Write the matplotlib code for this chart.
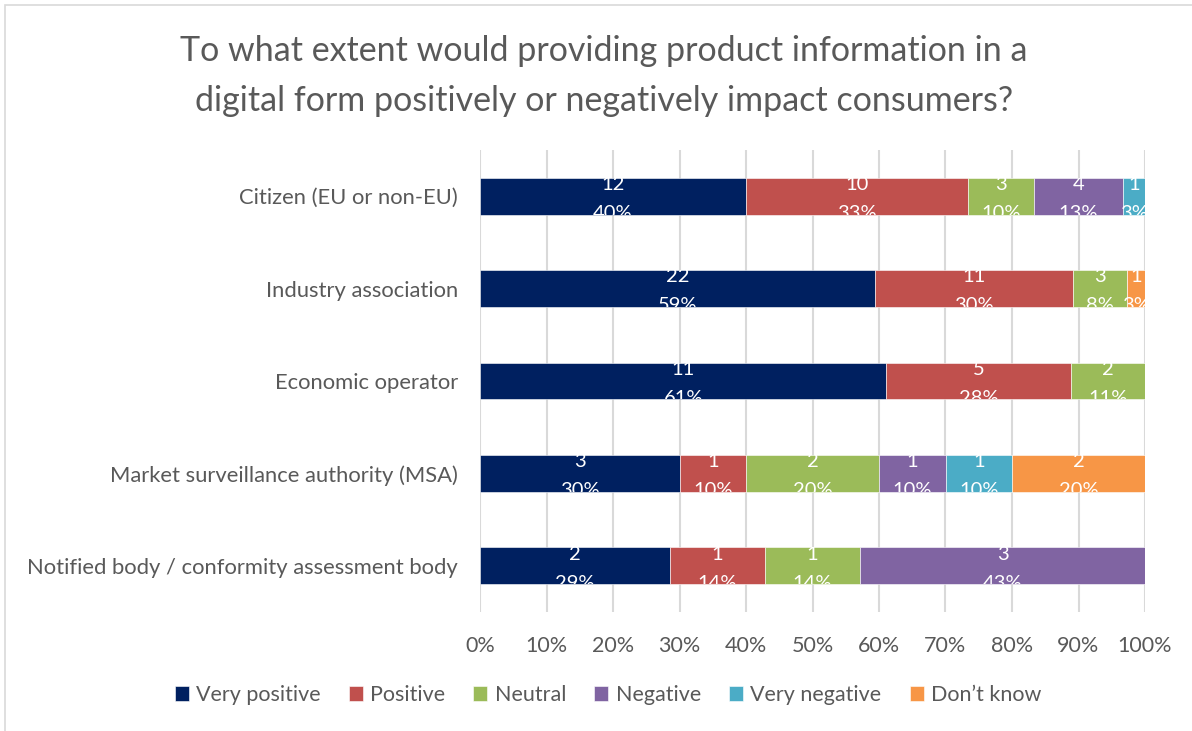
import matplotlib.pyplot as plt
from matplotlib.patches import Rectangle
import numpy as np

# categories, top to bottom
groups = [
    "Citizen (EU or non-EU)",
    "Industry association",
    "Economic operator",
    "Market surveillance authority (MSA)",
    "Notified body / conformity assessment body",
]
answers = ["Very positive", "Positive", "Neutral", "Negative", "Very negative", "Don\u2019t know"]
colors = ["#002060", "#C0504D", "#9BBB59", "#8064A2", "#4BACC6", "#F79646"]

# response counts per answer (same order as groups)
very_positive = [12, 22, 11, 3, 2]
positive = [10, 11, 5, 1, 1]
neutral = [3, 3, 2, 2, 1]
negative = [4, 0, 0, 1, 3]
very_negative = [1, 0, 0, 1, 0]
dont_know = [0, 1, 0, 2, 0]

title = "To what extent would providing product information in a\ndigital form positively or negatively impact consumers?"
x_ticks = [0, 10, 20, 30, 40, 50, 60, 70, 80, 90, 100]

TXT = "#595959"
plt.rcParams["font.family"] = ["Lato", "DejaVu Sans"]

counts = np.array([very_positive, positive, neutral, negative, very_negative, dont_know], dtype=float)
totals = counts.sum(axis=0)
shares = counts / totals

fig = plt.figure(figsize=(11.92, 7.31), dpi=100)
ax = fig.add_axes([480 / 1192, 1 - 612 / 731, 665 / 1192, 462 / 731])

# chart border (Excel chart area)
fig.patches.append(Rectangle((5 / 1192, -0.1), 1.2, 1 - 5 / 731 + 0.1, transform=fig.transFigure,
                             fill=False, edgecolor="#D9D9D9", linewidth=1.2))

y = np.arange(len(groups))
h = 0.40
left = np.zeros(len(groups))
for i, name in enumerate(answers):
    bars = ax.barh(y, shares[i], left=left, height=h, color=colors[i], label=name,
                   edgecolor="white", linewidth=0.4, zorder=3)
    for j, b in enumerate(bars):
        if counts[i, j] == 0:
            continue
        cx = left[j] + shares[i, j] / 2
        t = ax.text(cx, y[j] + 0.03, f"{int(counts[i, j])}\n{shares[i, j] * 100:.0f}%",
                    ha="center", va="center", color="white", fontsize=14.5,
                    linespacing=1.85, zorder=4)
        # labels overflow the bar and get cut off at its edges
        clip = Rectangle((-0.01, y[j] - h / 2), 1.01, h, transform=ax.transData)
        t.set_clip_path(clip)
        t.set_clip_on(True)
    left += shares[i]

ax.set_xlim(0, 1)
ax.set_ylim(len(groups) - 0.5, -0.5)
ax.set_yticks(y)
ax.set_yticklabels(groups, fontsize=15.8, color=TXT)
ax.set_xticks([v / 100 for v in x_ticks])
ax.set_xticklabels([f"{v}%" for v in x_ticks], fontsize=15.5, color=TXT)
ax.tick_params(axis="both", length=0)
ax.tick_params(axis="y", pad=16)
ax.tick_params(axis="x", pad=17)
ax.grid(axis="x", color="#D9D9D9", linewidth=1.5, zorder=0)
ax.set_axisbelow(True)
for s in ax.spines.values():
    s.set_visible(False)

fig.text(604 / 1192, 1 - 76 / 731, title, ha="center", va="center", fontsize=24.5,
         color=TXT, linespacing=1.7)

fig.legend(loc="center", bbox_to_anchor=(608 / 1192, 1 - 695 / 731), ncol=6, frameon=False,
           fontsize=15.5, labelcolor=TXT, handlelength=0.65, handleheight=0.65,
           handletextpad=0.35, columnspacing=1.3)

fig.savefig("out.png", dpi=100)
